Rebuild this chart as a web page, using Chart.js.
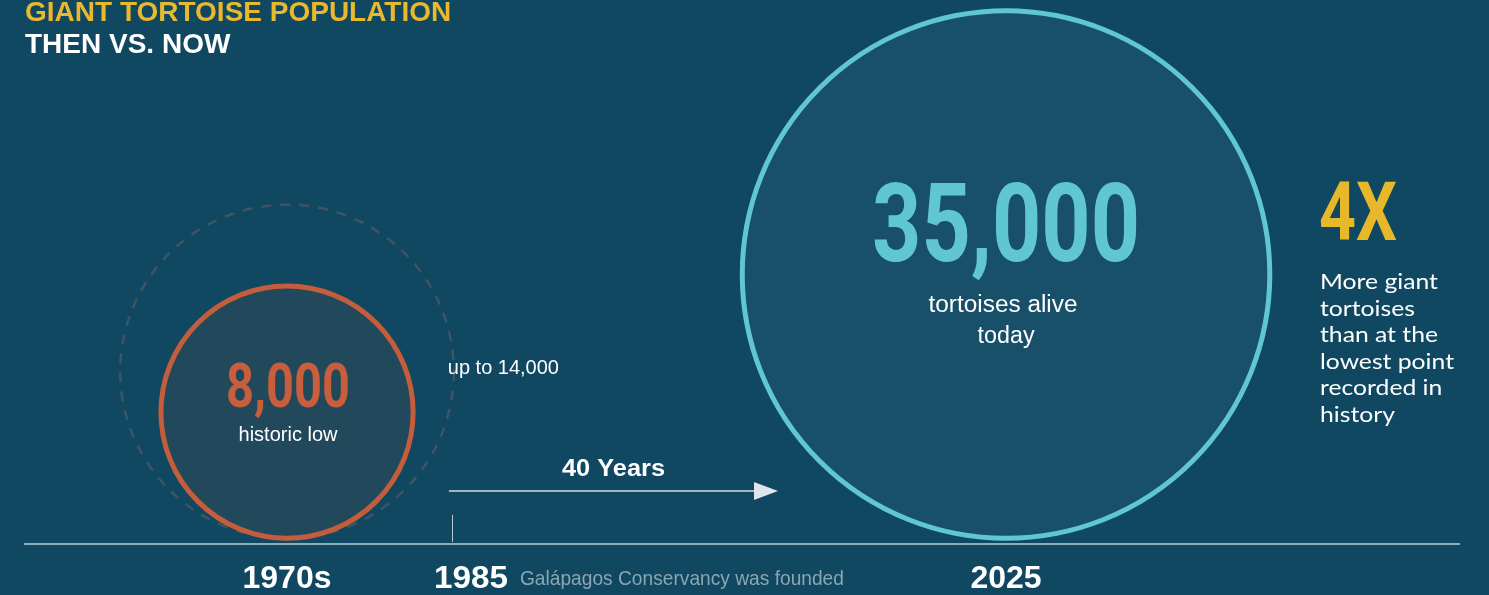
<!DOCTYPE html>
<html>
<head>
<meta charset="utf-8">
<script src="https://cdn.jsdelivr.net/npm/chart.js@4/dist/chart.umd.min.js"></script>
<style>
  html, body { margin: 0; padding: 0; background: #104761; }
  #wrap { width: 1489px; height: 595px; }
</style>
</head>
<body>
<div id="wrap"><canvas id="tortoiseChart"></canvas></div>
<script>
const tickYears = [1973, 1985, 2025];
const tickLabels = ['1970s', '1985', '2025'];
const foundedYear = [1985];
const foundedNote = ['Galápagos Conservancy was founded'];
const popYears = [1973, 2025];
const population = [8000, 35000];
const upperEstimate = [14000];
const growthLabel = ['4X'];
const growthNote = ['More giant', 'tortoises', 'than at the', 'lowest point', 'recorded in', 'history'];

const BG = '#104761';
const fmt = v => v.toLocaleString('en-US');

// circles are area proportional, so the y value is the square root of the count
const toY = v => Math.sqrt(v);

// radius taken from the y scale so every circle sits on the baseline
function radiusFromScale(ctx) {
  const y = ctx.chart.scales.y;
  if (!y || !ctx.raw) return 0;
  const r = y.getPixelForValue(0) - y.getPixelForValue(ctx.raw.y);
  return isFinite(r) ? r : 0;
}

// draw text, optionally squeezed/stretched to a target width
function fitText(ctx, text, x, y, font, color, align, width) {
  ctx.save();
  ctx.font = font;
  ctx.fillStyle = color;
  ctx.textBaseline = 'alphabetic';
  ctx.textAlign = 'left';
  const w = ctx.measureText(text).width;
  const sx = width ? width / w : 1;
  const dw = w * sx;
  const left = align === 'center' ? x - dw / 2 : align === 'right' ? x - dw : x;
  ctx.translate(left, y);
  ctx.scale(sx, 1);
  ctx.fillText(text, 0, 0);
  ctx.restore();
}

const background = {
  id: 'background',
  beforeDraw(chart) {
    const c = chart.ctx;
    c.save();
    c.fillStyle = BG;
    c.fillRect(0, 0, chart.width, chart.height);
    c.restore();
  }
};

// dashed outline for the upper estimate circle
const dashedCircle = {
  id: 'dashedCircle',
  beforeDatasetDraw(chart, args) {
    const ds = chart.data.datasets[args.index];
    if (ds.dash) chart.ctx.setLineDash(ds.dash);
  },
  afterDatasetDraw(chart) {
    chart.ctx.setLineDash([]);
  }
};

const annotations = {
  id: 'annotations',
  afterDatasetsDraw(chart) {
    const c = chart.ctx;
    const x = chart.scales.x, y = chart.scales.y;
    const base = y.getPixelForValue(0);

    // historic low
    const cx1 = x.getPixelForValue(popYears[0]);
    const r1 = base - y.getPixelForValue(toY(population[0]));
    const cy1 = base - r1;
    const rUp = base - y.getPixelForValue(toY(upperEstimate[0]));
    fitText(c, fmt(population[0]), cx1 + 1, cy1 - 5, 'bold 61px Roboto', '#c85e3b', 'center', 124);
    fitText(c, 'historic low', cx1 + 1, cy1 + 29, '20px "Liberation Sans"', '#ffffff', 'center', 99);
    fitText(c, 'up to ' + fmt(upperEstimate[0]), cx1 + rUp - 6, cy1 - 38, '20px "Liberation Sans"', '#ffffff', 'left', 111);

    // today
    const cx2 = x.getPixelForValue(popYears[1]);
    const r2 = base - y.getPixelForValue(toY(population[1]));
    const cy2 = base - r2;
    fitText(c, fmt(population[1]), cx2, cy2 - 14, 'bold 109px Roboto', '#5fc6d2', 'center', 268);
    fitText(c, 'tortoises alive', cx2 - 3, cy2 + 37, '23px "Liberation Sans"', '#ffffff', 'center', 149);
    fitText(c, 'today', cx2, cy2 + 68, '23px "Liberation Sans"', '#ffffff', 'center', 57);

    // 40 years arrow
    const fx = x.getPixelForValue(foundedYear[0]);
    const ax0 = fx - 4, ax1 = cx2 - 228, ay = 491;
    c.save();
    c.strokeStyle = '#d3dde2';
    c.fillStyle = '#dfe6ea';
    c.lineWidth = 1.5;
    c.beginPath();
    c.moveTo(ax0, ay);
    c.lineTo(ax1 - 20, ay);
    c.stroke();
    c.beginPath();
    c.moveTo(ax1 - 24, ay - 9);
    c.lineTo(ax1, ay);
    c.lineTo(ax1 - 24, ay + 9);
    c.closePath();
    c.fill();
    // founding tick
    const axisY = chart.chartArea.bottom;
    c.strokeStyle = '#b9c9d1';
    c.lineWidth = 1;
    c.beginPath();
    c.moveTo(Math.round(fx) - 0.5, axisY - 29);
    c.lineTo(Math.round(fx) - 0.5, axisY - 2);
    c.stroke();
    c.restore();
    fitText(c, (popYears[1] - foundedYear[0]) + ' Years', (ax0 + ax1) / 2, 476, 'bold 23px "Liberation Sans"', '#ffffff', 'center', 103);

    // 1985 label with note
    fitText(c, tickLabels[1], fx - 19, 588, 'bold 32px "Liberation Sans"', '#ffffff', 'left', 74);
    fitText(c, foundedNote[0], fx + 67, 585, '21px "Liberation Sans"', '#8ba6b4', 'left', 324);

    // 4X side note
    fitText(c, growthLabel[0], 1319, 240, 'bold 81px Roboto', '#e8b82b', 'left', 78);
    c.save();
    c.font = '21px Lato';
    const sx = 134 / c.measureText('lowest point').width;
    c.restore();
    growthNote.forEach((line, i) => {
      c.save();
      c.font = '21px Lato';
      const w = c.measureText(line).width * sx;
      c.restore();
      fitText(c, line, 1320, 289 + i * 26.5, '21px Lato', '#ffffff', 'left', w);
    });
  }
};

new Chart(document.getElementById('tortoiseChart'), {
  type: 'scatter',
  data: {
    datasets: [
      {
        label: 'Historic low',
        data: [{ x: popYears[0], y: toY(population[0]) }],
        pointBackgroundColor: '#22495b',
        pointBorderColor: '#c45d3b',
        pointBorderWidth: 5,
        pointRadius: radiusFromScale,
        clip: false
      },
      {
        label: 'Up to',
        data: [{ x: popYears[0], y: toY(upperEstimate[0]) }],
        pointBackgroundColor: 'rgba(0,0,0,0)',
        pointBorderColor: '#3e5563',
        pointBorderWidth: 2.5,
        dash: [10, 9],
        pointRadius: radiusFromScale,
        clip: false
      },
      {
        label: 'Today',
        data: [{ x: popYears[1], y: toY(population[1]) }],
        pointBackgroundColor: '#18506a',
        pointBorderColor: '#5fc6d2',
        pointBorderWidth: 5,
        pointRadius: radiusFromScale,
        clip: false
      }
    ]
  },
  options: {
    responsive: true,
    maintainAspectRatio: false,
    animation: false,
    events: [],
    layout: { autoPadding: false, padding: { left: 25, right: 30, top: 0, bottom: -20 } },
    plugins: {
      legend: { display: false },
      tooltip: { enabled: false },
      title: {
        display: true,
        text: 'GIANT TORTOISE POPULATION',
        align: 'start',
        color: '#e9b82c',
        font: { family: 'Liberation Sans', size: 28, weight: 'bold', lineHeight: 1 },
        padding: { top: -1.2, bottom: 4 }
      },
      subtitle: {
        display: true,
        text: 'THEN VS. NOW',
        align: 'start',
        color: '#ffffff',
        font: { family: 'Liberation Sans', size: 28, weight: 'bold', lineHeight: 1 },
        padding: { top: 0, bottom: 0 }
      }
    },
    scales: {
      x: {
        type: 'linear',
        min: 1954.05,
        max: 2057.76,
        grid: { display: false, drawTicks: false },
        border: { display: true, color: '#8eabb9', width: 2 },
        afterBuildTicks: scale => { scale.ticks = tickYears.map(v => ({ value: v })); },
        ticks: {
          autoSkip: false,
          maxRotation: 0,
          padding: 18,
          color: '#ffffff',
          font: { family: 'Liberation Sans', size: 32, weight: 'bold', lineHeight: 1.1 },
          callback: v => (v === foundedYear[0] ? '' : tickLabels[tickYears.indexOf(v)])
        }
      },
      y: {
        display: false,
        min: -3.9,
        max: 340.1
      }
    }
  },
  plugins: [background, dashedCircle, annotations]
});
</script>
</body>
</html>
